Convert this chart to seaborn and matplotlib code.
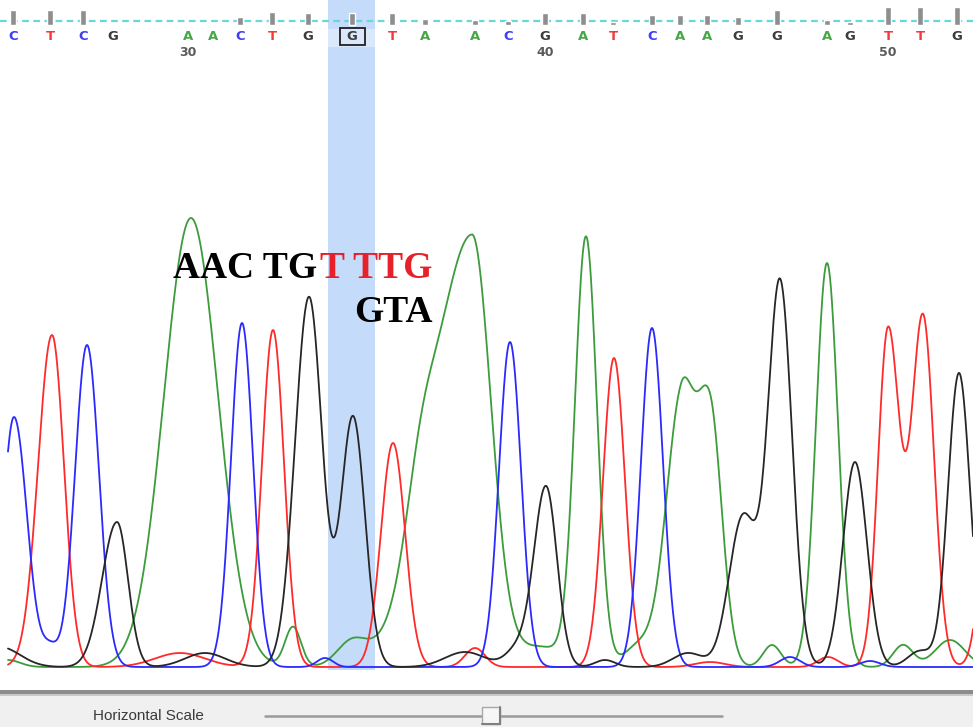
import numpy as np
import pandas as pd
import matplotlib.pyplot as plt
import seaborn as sns
from matplotlib.patches import Rectangle

# base calls shown along the top of the trace
bases = list("CTCGAACTGGTAACGATCAAGGAGTTG")
base_pos = [13, 50, 83, 113, 188, 213, 240, 272, 308, 352, 392, 425, 475,
            508, 545, 583, 613, 652, 680, 707, 738, 777, 827, 850, 888, 920, 957]
quality = [15, 15, 15, 0, 1, 1, 8, 13, 12, 12, 12, 6, 5,
           4, 12, 12, 3, 10, 10, 10, 8, 15, 5, 3, 18, 18, 18]
first_base_no = 26
selected_base = 9  # the boxed G (base 35)

# peaks: (scan position, height, left width, right width)
peaks_A = [(8, 7, 8, 12), (191, 449, 27, 27), (293, 40, 8, 8), (352, 24, 15, 15),
           (420, 60, 14, 14), (472, 432, 40, 19), (540, 20, 25, 25), (586, 427, 11, 11),
           (640, 22, 15, 15), (681, 262, 15, 13), (710, 252, 13, 12), (772, 22, 9, 9),
           (827, 404, 11, 11), (903, 22, 10, 10), (950, 27, 15, 15)]
peaks_C = [(14, 250, 11, 13), (50, 18, 8, 8), (87, 322, 12, 12), (242, 344, 11, 11),
           (325, 9, 8, 8), (510, 325, 11, 11), (652, 339, 11, 11), (790, 10, 10, 10),
           (870, 6, 10, 10)]
peaks_G = [(0, 20, 15, 20), (117, 145, 15, 11), (205, 14, 20, 20), (309, 370, 14, 13),
           (353, 250, 12, 12), (465, 15, 20, 20), (518, 18, 12, 12), (546, 180, 12, 11),
           (605, 7, 10, 10), (688, 14, 15, 15), (743, 150, 14, 14), (780, 384, 12, 12),
           (855, 205, 12, 12), (920, 16, 12, 12), (959, 294, 11, 11)]
peaks_T = [(52, 332, 14, 12), (180, 14, 25, 25), (273, 337, 11, 11), (393, 224, 12, 12),
           (475, 19, 10, 10), (614, 309, 11, 11), (710, 5, 15, 15), (828, 10, 10, 10),
           (888, 337, 10, 11.5), (923, 350, 11.5, 11), (995, 280, 11, 11)]

trace_colors = {"A": "#3c9c3c", "T": "#ff2a2a", "C": "#2a2aff", "G": "#262626"}
letter_colors = {"A": "#45a845", "T": "#f23a3a", "C": "#3f3ff0", "G": "#3c3c3c"}

scan = np.arange(8, 973.5, 0.5)


def trace(peaks):
    y = np.zeros_like(scan)
    for mu, h, sl, sr in peaks:
        s = np.where(scan < mu, sl, sr)
        y += h * np.exp(-0.5 * ((scan - mu) / s) ** 2)
    return y


rows = []
for base, pk in [("A", peaks_A), ("T", peaks_T), ("C", peaks_C), ("G", peaks_G)]:
    rows.append(pd.DataFrame({"scan": scan, "signal": trace(pk), "base": base}))
df = pd.concat(rows, ignore_index=True)

sns.set_style("white")
fig = plt.figure(figsize=(9.73, 7.27), dpi=100)

# main trace area, 1 unit = 1 pixel, baseline at pixel row 667
ax = fig.add_axes([0, 37 / 727, 1, 690 / 727])
ax.set_xlim(0, 973)
ax.set_ylim(-23, 667)
ax.axis("off")

# highlighted column
ax.add_patch(Rectangle((328, -3), 47, 670, color="#c4dbfa", lw=0, zorder=0))
ax.add_patch(Rectangle((328, 620), 47, 18, color="#dbe8fb", lw=0, zorder=0))

sns.lineplot(data=df, x="scan", y="signal", hue="base", palette=trace_colors,
             estimator=None, sort=False, lw=1.3, legend=False, ax=ax, zorder=2)

# header: dashed line, quality bars, base letters, numbering
ax.axhline(646, color="#66d8d8", lw=1.6, dashes=(3, 2), zorder=1)
ax.bar(base_pos, quality, bottom=642, width=6, color="#8e8e8e", zorder=3)
for i, (b, x) in enumerate(zip(bases, base_pos)):
    ax.text(x, 630, b, color=letter_colors[b], fontsize=9.5, fontweight="bold",
            ha="center", va="center", zorder=4)
    n = first_base_no + i
    if n % 10 == 0:
        ax.text(x, 615, str(n), color="#5a5a5a", fontsize=9, fontweight="bold",
                ha="center", va="center", zorder=4)
ax.add_patch(Rectangle((base_pos[selected_base] - 12, 622), 25, 17, fill=False,
                       ec="#202020", lw=1.3, zorder=5))

# mutation annotation
serif = dict(family="Liberation Serif", fontweight="bold", fontsize=27, va="baseline")
ax.text(173, 389, "AAC TG", color="black", ha="left", zorder=6, **serif)
ax.text(320, 389, "T TTG", color="#e8202a", ha="left", zorder=6, **serif)
ax.text(354, 345, "GTA", color="black", ha="left", zorder=6, **serif)

# bottom panel with the scale slider
bx = fig.add_axes([0, 0, 1, 37 / 727])
bx.set_xlim(0, 973)
bx.set_ylim(727, 690)
bx.axis("off")
bx.add_patch(Rectangle((0, 695), 973, 32, color="#f0f0f0", lw=0))
bx.add_patch(Rectangle((0, 690), 973, 5, color="#8c8c8c", lw=0))
bx.add_patch(Rectangle((0, 694), 973, 1.5, color="#c8c8c8", lw=0))
bx.text(93, 716, "Horizontal Scale", color="#3a3a3a", fontsize=11,
        family="Liberation Sans", ha="left", va="center")
bx.plot([265, 722], [716, 716], color="#9a9a9a", lw=1.8, solid_capstyle="round")
bx.add_patch(Rectangle((482, 707), 18, 17, fc="#f6f6f6", ec="#a8a8a8", lw=1, zorder=3))
bx.plot([500, 500], [707, 724], color="#808080", lw=1.5, zorder=4)
bx.plot([482, 500], [724, 724], color="#808080", lw=1.5, zorder=4)

fig.savefig("out.png", dpi=100)
